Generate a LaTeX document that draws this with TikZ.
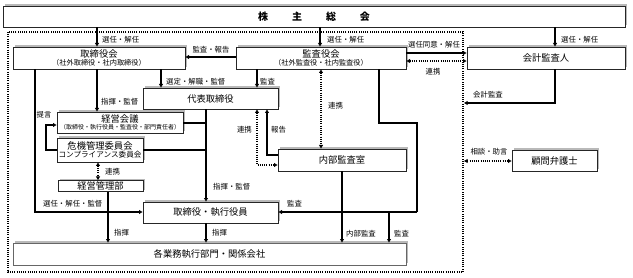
\documentclass[tikz,border=0pt]{standalone}
\usepackage{fontspec}
\setmainfont{Noto Sans CJK JP}
\usetikzlibrary{arrows.meta,shadows}
\begin{document}
\begin{tikzpicture}[x=1pt,y=-1pt,
  box/.style={draw=black!85, line width=0.8pt, fill=white, inner sep=0pt,
    general shadow={fill=gray!55, shadow xshift=1.6pt, shadow yshift=1.6pt},
    font=\fontsize{9.3}{10}\selectfont, align=center},
  arr/.style={line width=1.3pt, -{Triangle[length=3.6pt,width=3.8pt]}},
  ln/.style={line width=1.3pt},
  dot/.style={line width=1.3pt, dash pattern=on 1.1pt off 1.1pt},
  dotarr/.style={dot, {Triangle[length=3.6pt,width=3.8pt]}-{Triangle[length=3.6pt,width=3.8pt]}},
  lab/.style={font=\fontsize{7.4}{8}\selectfont, inner sep=0pt}
]
\useasboundingbox (0,0) rectangle (633,278);
% dotted frame
\draw[dot] (8,32) rectangle (463,272);
% boxes
\node[box, minimum width=622pt, minimum height=21pt] (kabu) at (314,16.5)
  {\fontsize{10}{11}\selectfont\bfseries 株\hspace{24pt}主\hspace{24pt}総\hspace{24pt}会};
\node[box, minimum width=172pt, minimum height=22pt] (tori) at (99,58)
  {取締役会\\[-2pt]{\fontsize{7.2}{7.5}\selectfont （社外取締役・社内取締役）}};
\node[box, minimum width=170pt, minimum height=22pt] (kansa) at (321,58)
  {監査役会\\[-2pt]{\fontsize{7.2}{7.5}\selectfont （社外監査役・社内監査役）}};
\node[box, minimum width=158pt, minimum height=22pt] (kaikei) at (546,58) {会計監査人};
\node[box, minimum width=135pt, minimum height=21pt] (daihyo) at (210.5,98.5) {代表取締役};
\node[box, minimum width=126pt, minimum height=21pt] (kaigi) at (120,122.5)
  {経営会議\\[-2.5pt]{\fontsize{6}{6.5}\selectfont （取締役・執行役員・監査役・部門責任者）}};
\node[box, minimum width=86pt, minimum height=24pt] (kiki) at (100,150)
  {危機管理委員会\\[-2.5pt]{\fontsize{7.6}{8}\selectfont コンプライアンス委員会}};
\node[box, minimum width=85pt, minimum height=11pt] (kanri) at (100.5,186) {経営管理部};
\node[box, minimum width=128pt, minimum height=22pt] (naibu) at (342,160) {内部監査室};
\node[box, minimum width=85pt, minimum height=21pt] (komon) at (554.5,160.5) {顧問弁護士};
\node[box, minimum width=135pt, minimum height=21pt] (shikko) at (210.5,212.5) {取締役・執行役員};
\node[box, draw=black!60, minimum width=393pt, minimum height=22pt] (kaku) at (209.5,254) {各業務執行部門・関係会社};
% free ends on the frame
\coordinate (f1) at (464,103);
\coordinate (f2) at (464,161);
% connectors
\draw[arr] (97,0 |- kabu.south) -- (97,0 |- tori.north);
\node[lab, anchor=west] (l1) at (102,39.5) {選任・解任};
\draw[arr] (320,0 |- kabu.south) -- (320,0 |- kansa.north);
\node[lab, anchor=west] (l2) at (327,39.5) {選任・解任};
\draw[arr] (555,0 |- kabu.south) -- (555,0 |- kaikei.north);
\node[lab, anchor=west] (l3) at (561,39.5) {選任・解任};
\draw[arr] (0,57 -| kansa.west) -- (0,57 -| tori.east);
\node[lab] (l4) at (211,50) {監査・報告};
\draw[arr] (161,0 |- tori.south) -- (161,0 |- daihyo.north);
\node[lab, anchor=west] (l5) at (166,81.5) {選定・解職・監督};
\draw[arr] (257,0 |- kansa.south) -- (257,0 |- daihyo.north);
\node[lab, anchor=west] (l6) at (260,81.5) {監査};
\draw[arr] (0,53 -| kansa.east) -- (0,53 -| kaikei.west);
\node[lab] (l7) at (434,45) {選任同意・解任};
\draw[dotarr] (0,61 -| kansa.east) -- (0,61 -| kaikei.west);
\node[lab] (l8) at (433,72) {連携};
\draw[arr] (555,0 |- kaikei.south) -- (555,103) -- (f1);
\node[lab, anchor=west] (l9) at (473,95) {会計監査};
\draw[dotarr] (f2) -- (0,161 -| komon.west);
\node[lab] (l10) at (489,152) {相談・助言};
\draw[dotarr] (321,0 |- kansa.south) -- (321,0 |- naibu.north);
\node[lab, anchor=west] (l11) at (328,106) {連携};
\draw[ln] (379,0 |- kansa.south) -- (379,123) -- (417,123) -- (417,212);
\draw[arr] (417,212) -- (0,212 -| shikko.east);
\node[lab, anchor=west] (l12) at (287,203.5) {監査};
\draw[arr] (389,212) -- (389,0 |- kaku.north);
\node[lab, anchor=west] (l13) at (394,234) {監査};
\draw[arr] (342,0 |- naibu.south) -- (342,0 |- kaku.north);
\node[lab, anchor=west] (l14) at (346,234) {内部監査};
\draw[arr] (0,155 -| naibu.west) -- (267,155) -- (267,0 |- daihyo.south);
\node[lab, anchor=west] (l15) at (271,130) {報告};
\draw[dotarr] (257,0 |- daihyo.south) -- (257,165) -- (0,165 -| naibu.west);
\node[lab, anchor=east] (l16) at (252,130) {連携};
\draw[arr] (206,0 |- daihyo.south) -- (206,0 |- shikko.north);
\node[lab, anchor=west] (l17) at (213,187) {指揮・監督};
\draw[ln] (0,123 -| kaigi.east) -- (206,123);
\draw[ln] (0,150 -| kiki.east) -- (206,150);
\draw[arr] (97,0 |- tori.south) -- (97,0 |- kaigi.north);
\node[lab, anchor=west] (l18) at (101,102) {指揮・監督};
\draw[arr] (35,0 |- tori.south) -- (35,212) -- (0,212 -| shikko.west);
\node[lab, anchor=west] (l19) at (43,204) {選任・解任・監督};
\draw[arr] (0,150 -| kiki.west) -- (46,150) -- (46,125) -- (0,125 -| kaigi.west);
\node[lab] (l20) at (44,115) {提言};
\draw[dotarr] (98,0 |- kiki.south) -- (98,0 |- kanri.north);
\node[lab, anchor=west] (l21) at (105,172) {連携};
\draw[arr] (108,0 |- kanri.south) -- (108,0 |- kaku.north);
\node[lab, anchor=west] (l22) at (114,233) {指揮};
\draw[arr] (206,0 |- shikko.south) -- (206,0 |- kaku.north);
\node[lab, anchor=west] (l23) at (212,233) {指揮};
\end{tikzpicture}
\end{document}
